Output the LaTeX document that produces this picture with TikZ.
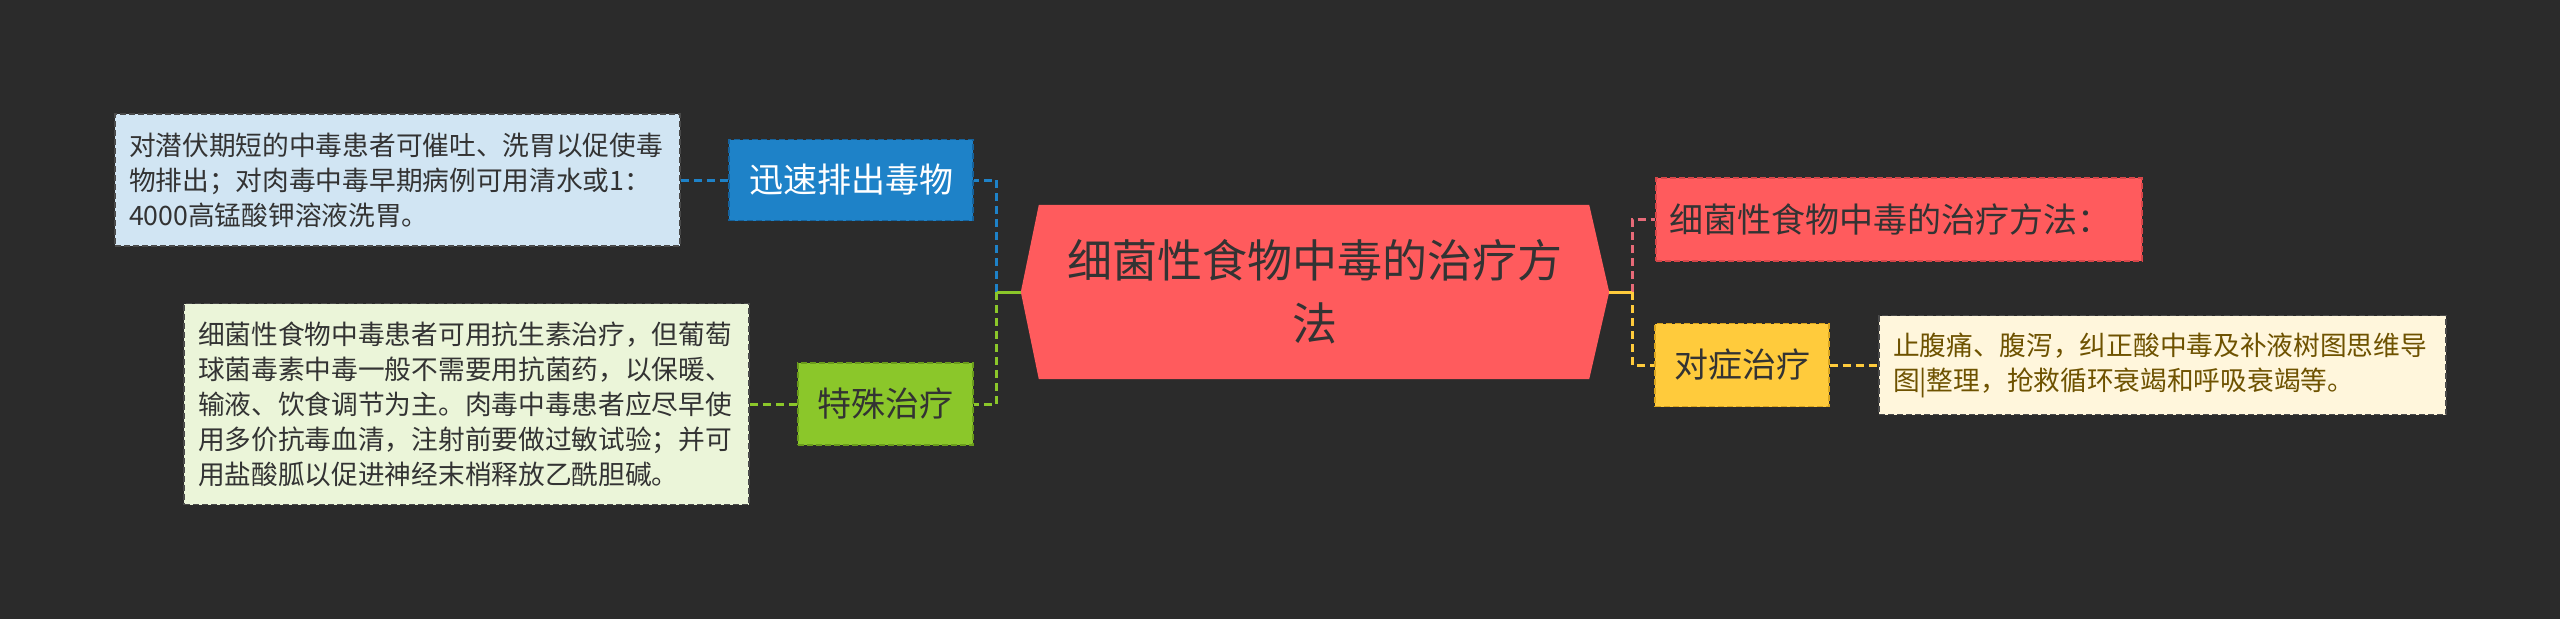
\documentclass[tikz,border=0pt]{standalone}
\usepackage{fontspec}
\setmainfont{Noto Sans CJK SC}
\usetikzlibrary{calc,backgrounds}
\definecolor{bgc}{HTML}{2B2B2B}
\definecolor{txt}{HTML}{333333}
\definecolor{redc}{HTML}{FF5B5D}
\definecolor{redd}{HTML}{D84649}
\definecolor{bluec}{HTML}{1E82C8}
\definecolor{blued}{HTML}{15629C}
\definecolor{bluel}{HTML}{D1E5F3}
\definecolor{greenc}{HTML}{8BC72A}
\definecolor{greend}{HTML}{6A9C1C}
\definecolor{greenl}{HTML}{EBF5D9}
\definecolor{yellowc}{HTML}{FFCB3C}
\definecolor{yellowd}{HTML}{D9A41E}
\definecolor{creaml}{HTML}{FFF6DC}
\definecolor{creamt}{HTML}{6E5200}
\definecolor{pinkc}{HTML}{E76A78}
\definecolor{leafd}{HTML}{4A4A4A}
\begin{document}
\begin{tikzpicture}[x=1pt,y=-1pt,
  boxbase/.style={rectangle, inner sep=0pt, line width=1.5pt, dash pattern=on 6pt off 3pt},
  branch/.style={boxbase, font=\fontsize{34pt}{40pt}\selectfont, text=txt},
  leaf/.style={boxbase, font=\fontsize{26.7pt}{35pt}\selectfont, text width=537pt, align=left, inner xsep=14pt, inner ysep=0pt, draw=leafd, text=txt, minimum width=565pt},
  link/.style={line width=3pt, dash pattern=on 8pt off 5pt},
  solidlink/.style={line width=3pt}]
\useasboundingbox (0,0) rectangle (2560,619);

% central node
\node[rectangle, inner sep=0pt, minimum width=588pt, minimum height=174pt, text width=560pt, align=center, font=\fontsize{45pt}{63pt}\selectfont, text=txt] (center) at (1315,292) {细菌性食物中毒的治疗方\\法};

% left branches
\node[branch, fill=bluec, draw=blued, text=white, minimum width=244pt, minimum height=81pt] (blue) at (851,180) {迅速排出毒物};
\node[branch, fill=greenc, draw=greend, minimum width=175pt, minimum height=82pt] (green) at (885.5,404) {特殊治疗};
\node[leaf, fill=bluel, minimum height=132pt] (bluebox) at (397.5,180) {对潜伏期短的中毒患者可催吐、洗胃以促使毒\\物排出；对肉毒中毒早期病例可用清水或1：\\4000高锰酸钾溶液洗胃。};
\node[leaf, fill=greenl, minimum height=201pt] (greenbox) at (466.5,404) {细菌性食物中毒患者可用抗生素治疗，但葡萄\\球菌毒素中毒一般不需要用抗菌药，以保暖、\\输液、饮食调节为主。肉毒中毒患者应尽早使\\用多价抗毒血清，注射前要做过敏试验；并可\\用盐酸胍以促进神经末梢释放乙酰胆碱。};

% right branches
\node[branch, fill=redc, draw=redd, minimum width=486pt, minimum height=83pt, text width=460pt, align=left] (red) at (1899,219.5) {细菌性食物中毒的治疗方法：};
\node[branch, fill=yellowc, draw=yellowd, minimum width=174pt, minimum height=83pt] (yellow) at (1742,365) {对症治疗};
\node[leaf, fill=creaml, draw=leafd, text=creamt, minimum width=567pt, text width=539pt, minimum height=99pt] (cream) at (2162.5,365) {止腹痛、腹泻，纠正酸中毒及补液树图思维导\\图|整理，抢救循环衰竭和呼吸衰竭等。};

\begin{scope}[on background layer]
  \fill[bgc] (0,0) rectangle (2560,619);
  \fill[redc] (center.west) -- ($(center.north west)+(18,0)$) -- ($(center.north east)+(-20,0)$) -- (center.east) -- ($(center.south east)+(-20,0)$) -- ($(center.south west)+(18,0)$) -- cycle;
\end{scope}

\coordinate (jl) at ($(center.west)+(-24,0)$);
\coordinate (jr) at ($(center.east)+(23,0)$);

\draw[link, bluec] (jl) |- (blue.east);
\draw[link, greenc] (jl) |- (green.east);
\draw[solidlink, greenc] (center.west) -- (jl);
\draw[link, bluec] (bluebox.east) -- (blue.west);
\draw[link, greenc] (greenbox.east) -- (green.west);

\draw[link, pinkc] (jr) |- (red.west);
\draw[link, yellowc] (jr) |- (yellow.west);
\draw[solidlink, yellowc] (center.east) -- (jr);
\draw[link, yellowc] (yellow.east) -- (cream.west);
\end{tikzpicture}
\end{document}
